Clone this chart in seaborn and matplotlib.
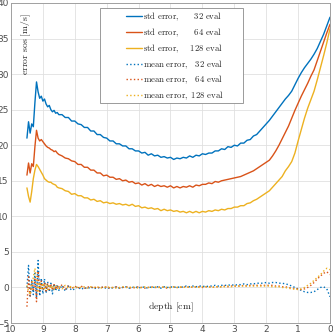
import numpy as np
import pandas as pd
import matplotlib
matplotlib.use("Agg")
import matplotlib.pyplot as plt
from matplotlib.patches import Rectangle
import seaborn as sns

# --- data (depth in cm, error in m/s) ---
depth_fine = [9.50, 9.45, 9.40, 9.35, 9.30, 9.25, 9.20, 9.15, 9.10, 9.05, 9.00,
              8.95, 8.90, 8.85, 8.80, 8.75, 8.70, 8.65, 8.60, 8.55, 8.50]
depth_coarse = list(np.round(np.arange(8.4, -0.05, -0.1), 1))
depth = depth_fine + depth_coarse

std_32 = [21.0, 23.3, 21.7, 23.0, 22.6, 26.0, 28.9, 27.5, 26.6, 26.9, 26.2,
          26.5, 25.8, 25.4, 25.6, 25.0, 24.7, 24.9, 24.5, 24.6, 24.3,
          24.3, 23.9, 23.9, 23.4, 23.4, 23.0, 22.9, 22.5, 22.5, 22.0,
          22.0, 21.5, 21.5, 21.1, 21.0, 20.6, 20.6, 20.2, 20.2, 19.9,
          19.9, 19.5, 19.5, 19.2, 19.2, 18.9, 19.0, 18.6, 18.8, 18.5,
          18.6, 18.3, 18.4, 18.2, 18.3, 18.0, 18.2, 18.1, 18.3, 18.2,
          18.5, 18.3, 18.6, 18.5, 18.8, 18.7, 18.9, 18.9, 19.2, 19.2,
          19.5, 19.4, 19.8, 19.7, 20.0, 19.9, 20.3, 20.3, 20.7, 20.8,
          21.3, 21.5, 22.0, 22.5, 23.0, 23.5, 24.1, 24.7, 25.3, 25.9,
          26.5, 27.0, 27.6, 28.5, 29.4, 30.2, 30.9, 31.5, 32.1, 32.8,
          33.6, 34.6, 35.6, 36.8, 38.0]

std_64 = [15.8, 17.5, 16.1, 17.4, 17.0, 19.8, 22.1, 21.0, 20.6, 20.8, 20.5,
          20.2, 19.9, 19.7, 19.6, 19.4, 19.3, 19.1, 19.2, 18.9, 18.7,
          18.5, 18.2, 18.1, 17.8, 17.7, 17.3, 17.3, 16.9, 16.9, 16.5,
          16.5, 16.1, 16.1, 15.7, 15.8, 15.5, 15.5, 15.2, 15.3, 15.0,
          15.1, 14.8, 14.9, 14.6, 14.7, 14.4, 14.6, 14.3, 14.5, 14.2,
          14.4, 14.2, 14.3, 14.1, 14.3, 14.0, 14.2, 14.0, 14.2, 14.1,
          14.3, 14.1, 14.4, 14.3, 14.5, 14.5, 14.7, 14.6, 14.9, 14.8,
          15.0, 15.1, 15.2, 15.3, 15.4, 15.5, 15.6, 15.8, 16.0, 16.2,
          16.4, 16.7, 17.0, 17.3, 17.6, 17.9, 18.5, 19.2, 20.0, 20.9,
          21.8, 22.7, 23.8, 24.9, 25.9, 26.9, 27.8, 28.7, 29.7, 30.6,
          31.9, 33.2, 34.5, 35.8, 37.0]

std_128 = [14.0, 12.8, 12.0, 13.5, 15.3, 16.5, 17.3, 17.0, 16.6, 16.2, 15.8,
           15.3, 15.1, 14.9, 14.8, 14.8, 14.6, 14.5, 14.4, 14.1, 14.0,
           13.9, 13.6, 13.5, 13.1, 13.2, 12.9, 12.9, 12.6, 12.6, 12.3,
           12.4, 12.1, 12.2, 11.9, 12.0, 11.8, 11.9, 11.7, 11.8, 11.6,
           11.7, 11.5, 11.7, 11.4, 11.5, 11.2, 11.3, 11.1, 11.2, 11.0,
           11.1, 10.8, 11.0, 10.8, 10.9, 10.7, 10.8, 10.6, 10.7, 10.5,
           10.7, 10.5, 10.7, 10.5, 10.7, 10.6, 10.8, 10.7, 10.9, 10.8,
           11.0, 10.9, 11.1, 11.1, 11.3, 11.3, 11.5, 11.5, 11.8, 11.9,
           12.2, 12.4, 12.7, 13.0, 13.3, 13.6, 14.1, 14.6, 15.1, 15.6,
           16.4, 17.0, 17.7, 18.9, 20.6, 22.2, 23.8, 25.2, 26.4, 27.6,
           29.2, 30.9, 32.6, 34.4, 36.4]

mean_32 = [0.0, 3.1, -1.4, 1.0, -1.0, 2.0, -1.5, 3.8, -1.2, 1.3, -0.9,
           1.2, -0.8, 0.8, -0.6, 0.6, -0.9, 0.5, -0.5, 0.4, -0.4,
           0.3, -0.5, 0.2, -0.4, -0.2, 0.1, -0.3, 0.0, -0.2, 0.1,
           -0.2, 0.0, -0.1, 0.1, -0.2, 0.0, -0.1, 0.1, -0.1, 0.0,
           0.1, -0.1, 0.0, 0.1, -0.1, 0.1, 0.0, -0.1, 0.1, 0.0,
           0.1, -0.1, 0.1, 0.0, 0.1, 0.0, 0.1, 0.0, 0.1, 0.2,
           0.1, 0.2, 0.1, 0.2, 0.2, 0.1, 0.2, 0.2, 0.3, 0.2,
           0.3, 0.3, 0.3, 0.4, 0.3, 0.4, 0.4, 0.5, 0.4, 0.5,
           0.5, 0.6, 0.6, 0.6, 0.7, 0.6, 0.7, 0.7, 0.6, 0.6,
           0.5, 0.4, 0.2, 0.0, -0.2, -0.4, -0.6, -0.7, -0.7, -0.6,
           -0.3, 0.0, 0.1, -0.2, -1.3]

mean_64 = [-2.7, 1.5, -1.2, 0.8, -0.5, 1.2, -2.0, 2.3, -0.6, 0.9, -0.4,
           0.7, -0.5, 0.6, -0.3, 0.5, -0.4, 0.4, -0.3, 0.3, -0.2,
           0.4, -0.3, 0.3, -0.2, 0.2, -0.1, 0.2, -0.1, 0.1, 0.0,
           0.1, -0.1, 0.1, 0.0, 0.1, -0.1, 0.0, 0.1, -0.1, 0.0,
           0.1, 0.0, -0.1, 0.0, 0.1, 0.0, -0.1, 0.0, 0.1, 0.0,
           0.0, 0.1, 0.0, -0.1, 0.0, 0.1, 0.0, 0.0, 0.1, 0.0,
           0.1, 0.0, 0.1, 0.1, 0.0, 0.1, 0.1, 0.0, 0.1, 0.1,
           0.1, 0.2, 0.1, 0.2, 0.2, 0.2, 0.2, 0.3, 0.2, 0.3,
           0.3, 0.3, 0.3, 0.3, 0.3, 0.3, 0.3, 0.2, 0.2, 0.1,
           0.1, 0.0, -0.1, -0.2, -0.2, -0.3, -0.2, 0.0, 0.3, 0.7,
           1.2, 1.6, 2.0, 2.2, 1.8]

mean_128 = [0.3, -0.5, -1.0, 0.5, 1.4, 2.7, 1.0, -0.5, 0.8, -0.3, 0.6,
            -0.4, 0.5, -0.3, 0.4, -0.2, 0.3, -0.3, 0.2, -0.2, 0.2,
            -0.2, 0.3, -0.1, 0.2, -0.1, 0.1, 0.0, 0.1, -0.1, 0.1,
            0.0, 0.1, -0.1, 0.0, 0.1, 0.0, 0.0, -0.1, 0.0, 0.1,
            0.0, 0.0, 0.1, 0.0, -0.1, 0.0, 0.1, 0.0, 0.0, 0.1,
            0.0, 0.0, 0.1, 0.0, 0.0, 0.1, 0.0, 0.1, 0.0, 0.1,
            0.0, 0.1, 0.1, 0.0, 0.1, 0.1, 0.1, 0.0, 0.1, 0.1,
            0.1, 0.1, 0.2, 0.1, 0.2, 0.2, 0.2, 0.2, 0.2, 0.2,
            0.2, 0.2, 0.2, 0.2, 0.2, 0.2, 0.1, 0.1, 0.1, 0.0,
            0.0, -0.1, -0.2, -0.2, -0.3, -0.2, 0.0, 0.3, 0.6, 1.0,
            1.4, 1.8, 2.3, 2.7, 2.5]

blue, red, yellow = "#0072BD", "#D95319", "#EDB120"

series = [
    (std_32, blue, "-", r"$\mathrm{std\ error,\quad\ \enspace 32\ eval}$"),
    (std_64, red, "-", r"$\mathrm{std\ error,\quad\ \enspace 64\ eval}$"),
    (std_128, yellow, "-", r"$\mathrm{std\ error,\quad\ 128\ eval}$"),
    (mean_32, blue, ":", r"$\mathrm{mean\ error,\ \enspace 32\ eval}$"),
    (mean_64, red, ":", r"$\mathrm{mean\ error,\ \enspace 64\ eval}$"),
    (mean_128, yellow, ":", r"$\mathrm{mean\ error,\ 128\ eval}$"),
]

sns.set_style("whitegrid")
plt.rcParams["font.family"] = ["DejaVu Sans"]
plt.rcParams["mathtext.fontset"] = "cm"

fig = plt.figure(figsize=(3.33, 3.32), dpi=100)
ax = fig.add_axes([0.033, 0.027, 0.958, 0.964])

for vals, col, ls, lab in series:
    df = pd.DataFrame({"depth": depth, "err": vals})
    sns.lineplot(data=df, x="depth", y="err", ax=ax, color=col, linestyle=ls,
                 linewidth=1.0, label=lab, sort=False)

ax.set_xlim(10, 0)
ax.set_ylim(-5, 40)
ax.set_xticks(range(0, 11))
ax.set_yticks(range(-5, 41, 5))
ax.grid(True, color="#e0e0e0", linewidth=0.6)
for s in ax.spines.values():
    s.set_color("#a0a0a0")
    s.set_linewidth(0.7)
ax.tick_params(axis="both", labelsize=6.5, colors="#4d4d4d", direction="in",
               length=2, pad=1.5, width=0.5)
ax.set_xlabel("")
ax.set_ylabel("")

ax.text(0.5, 0.05, r"$\mathrm{depth\ [cm]}$", transform=ax.transAxes,
        ha="center", va="center", fontsize=7)
ax.text(0.047, 0.87, r"$\mathrm{error\ sos\ [m/s]}$", transform=ax.transAxes,
        ha="center", va="center", rotation=90, fontsize=7)

# legend box drawn separately (MATLAB style wide padding)
ax.add_patch(Rectangle((0.279, 0.6875), 0.448, 0.297, transform=ax.transAxes,
                       facecolor="white", edgecolor="#8a8a8a", linewidth=0.6,
                       zorder=4))
leg = ax.legend(loc="upper left", bbox_to_anchor=(0.36, 0.976), fontsize=6.3,
                frameon=False, handlelength=1.9, handletextpad=0.1,
                labelspacing=0.37, borderpad=0, borderaxespad=0)
leg.set_zorder(5)

fig.savefig("out.png", dpi=100)
